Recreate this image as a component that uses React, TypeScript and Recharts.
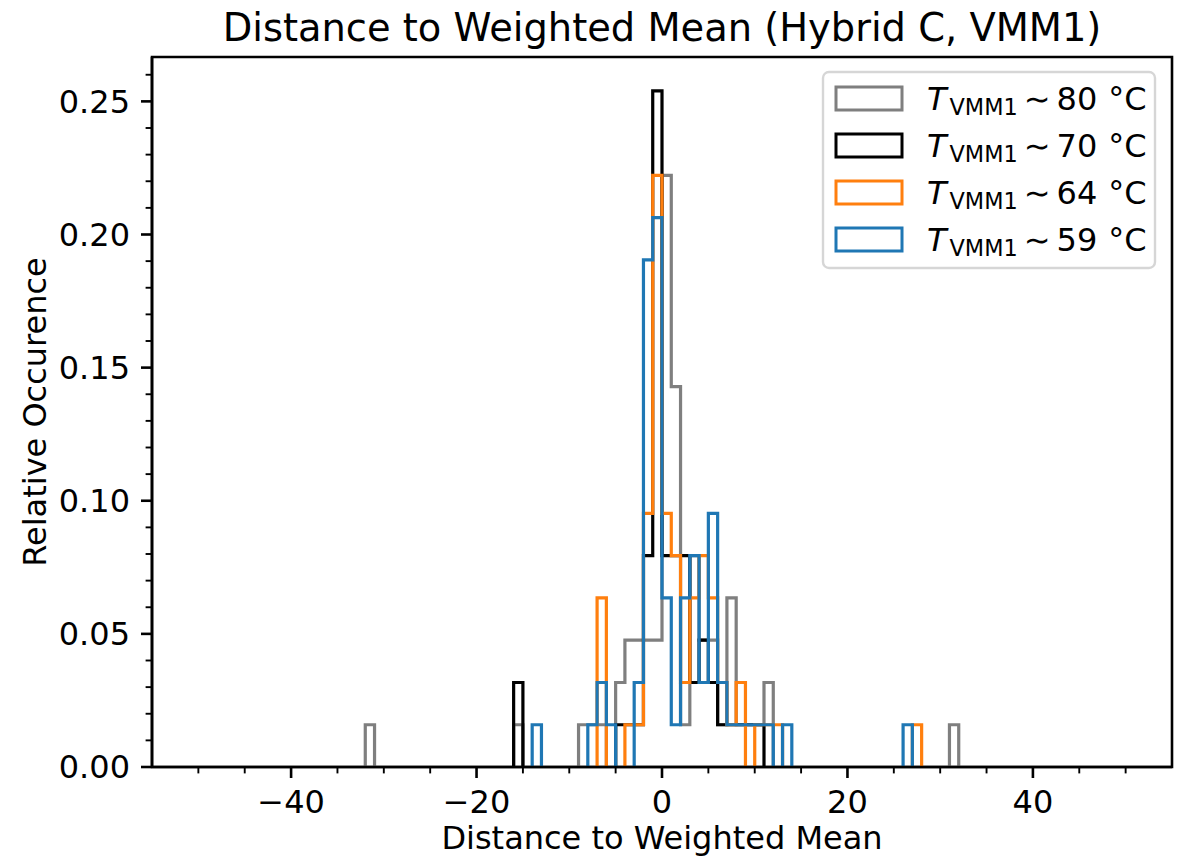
import React from 'react';
import { LineChart, Line, XAxis, YAxis, ReferenceArea } from 'recharts';

// counts per 1-unit bin (key = left edge of the bin), normalised by TOTAL
const TOTAL = 63;

const GRAY_BINS = [-32, -16, -9, -8, -7, -5, -4, -3, -2, -1, 0, 1, 2, 3, 4, 5, 6, 7, 8, 9, 10, 11, 31];
const GRAY_COUNTS = [1, 1, 1, 1, 1, 2, 3, 3, 3, 3, 14, 9, 1, 5, 3, 3, 1, 4, 1, 1, 1, 2, 1];

const BLACK_BINS = [-16, -5, -4, -3, -2, -1, 0, 1, 2, 3, 4, 5, 6, 7, 8, 9, 10];
const BLACK_COUNTS = [2, 1, 1, 1, 5, 16, 5, 5, 5, 2, 3, 2, 1, 1, 1, 1, 1];

const ORANGE_BINS = [-7, -4, -3, -2, -1, 0, 1, 2, 3, 4, 5, 6, 7, 8, 10, 11, 12, 27];
const ORANGE_COUNTS = [4, 1, 1, 6, 14, 6, 5, 2, 4, 5, 4, 2, 1, 2, 1, 1, 1, 1];

const BLUE_BINS = [-14, -8, -7, -6, -3, -2, -1, 0, 1, 2, 3, 4, 5, 6, 7, 8, 9, 10, 11, 13, 26];
const BLUE_COUNTS = [1, 1, 2, 1, 2, 12, 13, 4, 1, 4, 5, 2, 6, 2, 1, 1, 1, 1, 1, 1, 1];

const SERIES = [
  { name: '80', color: '#7f7f7f', bins: GRAY_BINS, counts: GRAY_COUNTS },
  { name: '70', color: '#000000', bins: BLACK_BINS, counts: BLACK_COUNTS },
  { name: '64', color: '#ff7f0e', bins: ORANGE_BINS, counts: ORANGE_COUNTS },
  { name: '59', color: '#1f77b4', bins: BLUE_BINS, counts: BLUE_COUNTS },
];

const X_DOMAIN: [number, number] = [-55, 55];
const X_MAJOR = [-40, -20, 0, 20, 40];
const X_MINOR = [-50, -45, -35, -30, -25, -15, -10, -5, 5, 10, 15, 25, 30, 35, 45, 50];
const Y_MAJOR = [0, 0.05, 0.1, 0.15, 0.2, 0.25];
const Y_MINOR = [
  0.01, 0.02, 0.03, 0.04, 0.06, 0.07, 0.08, 0.09, 0.11, 0.12, 0.13, 0.14,
  0.16, 0.17, 0.18, 0.19, 0.21, 0.22, 0.23, 0.24, 0.26,
];

const FONT = '"DejaVu Sans", sans-serif';
const W = 1178;
const H = 856;

// step outline like histtype='step': one run per block of non-empty bins
function outline(bins: number[], counts: number[]) {
  const pts: { x: number; y: number | null }[] = [];
  for (let i = 0; i < bins.length; i++) {
    const b = bins[i];
    const h = counts[i] / TOTAL;
    if (i === 0 || bins[i - 1] !== b - 1) pts.push({ x: b, y: 0 });
    pts.push({ x: b, y: h });
    pts.push({ x: b + 1, y: h });
    if (i === bins.length - 1 || bins[i + 1] !== b + 1) {
      pts.push({ x: b + 1, y: 0 });
      pts.push({ x: b + 1, y: null });
    }
  }
  return pts;
}

const allCounts = SERIES.flatMap((s) => s.counts);
const Y_TOP = (Math.max(...allCounts) / TOTAL) * 1.05;

function fmtX(v: number) {
  return v < 0 ? `\u2212${Math.abs(v)}` : String(v);
}

function XTick(props: any) {
  const { x, y, payload } = props;
  const major = X_MAJOR.includes(payload.value);
  return (
    <g>
      <line x1={x} x2={x} y1={y} y2={y + (major ? 11 : 6.4)} stroke="#000" strokeWidth={major ? 2.6 : 1.9} />
      {major && (
        <text x={x} y={y + 46} textAnchor="middle" fontSize={32} fontFamily={FONT} fill="#000">
          {fmtX(payload.value)}
        </text>
      )}
    </g>
  );
}

function YTick(props: any) {
  const { x, y, payload } = props;
  const major = Y_MAJOR.some((m) => Math.abs(m - payload.value) < 1e-9);
  return (
    <g>
      <line x1={x} x2={x - (major ? 11 : 6.4)} y1={y} y2={y} stroke="#000" strokeWidth={major ? 2.6 : 1.9} />
      {major && (
        <text x={x - 22} y={y} dy="0.35em" textAnchor="end" fontSize={32} fontFamily={FONT} fill="#000">
          {payload.value.toFixed(2)}
        </text>
      )}
    </g>
  );
}

function LegendBox() {
  const left = 823;
  const top = 72;
  const rowH = 47;
  return (
    <g>
      <rect x={left} y={top} width={332} height={196} rx={6} fill="#fff" fillOpacity={0.8} stroke="#d6d6d6" strokeWidth={2.4} />
      {SERIES.map((s, i) => {
        const cy = top + 26.5 + i * rowH;
        return (
          <g key={s.name}>
            <rect x={836} y={cy - 11.5} width={66} height={23} fill="#fff" stroke={s.color} strokeWidth={3} />
            <text x={927} y={cy + 11} fontSize={32} fontFamily={FONT} fill="#000">
              <tspan fontStyle="italic">T</tspan>
              <tspan fontSize={22.4} dy={5} dx={3}>VMM1</tspan>
              <tspan dy={-5} dx={6}>{'\u223C'}</tspan>
              <tspan dx={6}>{s.name}</tspan>
              <tspan dx={11}>{'\u00B0C'}</tspan>
            </text>
          </g>
        );
      })}
    </g>
  );
}

export default function App() {
  return (
    <div style={{ position: 'absolute', left: 0, top: 0, width: W, height: H, background: '#fff' }}>
      <LineChart width={W} height={H} margin={{ top: 57, right: 6, bottom: 0, left: 0 }}>
        <XAxis
          type="number"
          dataKey="x"
          domain={X_DOMAIN}
          ticks={[...X_MAJOR, ...X_MINOR].sort((a, b) => a - b)}
          interval={0}
          height={89}
          tickSize={0}
          tickMargin={0}
          tickLine={false}
          axisLine={{ stroke: '#000', strokeWidth: 2.6 }}
          tick={<XTick />}
          allowDataOverflow
        />
        <YAxis
          type="number"
          domain={[0, Y_TOP]}
          ticks={[...Y_MAJOR, ...Y_MINOR].sort((a, b) => a - b)}
          interval={0}
          width={152}
          tickSize={0}
          tickMargin={0}
          tickLine={false}
          axisLine={{ stroke: '#000', strokeWidth: 2.6 }}
          tick={<YTick />}
          allowDataOverflow
        />
        {SERIES.map((s) => (
          <Line
            key={s.name}
            data={outline(s.bins, s.counts)}
            dataKey="y"
            type="linear"
            stroke={s.color}
            strokeWidth={3.2}
            strokeLinejoin="miter"
            dot={false}
            activeDot={false}
            connectNulls={false}
            isAnimationActive={false}
          />
        ))}
        <ReferenceArea x1={X_DOMAIN[0]} x2={X_DOMAIN[1]} y1={0} y2={Y_TOP} fill="none" stroke="#000" strokeWidth={2.6} ifOverflow="visible" />
      </LineChart>
      <svg width={W} height={H} style={{ position: 'absolute', left: 0, top: 0, pointerEvents: 'none' }}>
        <text x={662} y={41} textAnchor="middle" fontSize={38.4} fontFamily={FONT} fill="#000">
          Distance to Weighted Mean (Hybrid C, VMM1)
        </text>
        <text x={662} y={849} textAnchor="middle" fontSize={32} fontFamily={FONT} fill="#000">
          Distance to Weighted Mean
        </text>
        <text x={46} y={412} textAnchor="middle" fontSize={32} fontFamily={FONT} fill="#000" transform="rotate(-90 46 412)">
          Relative Occurence
        </text>
        <LegendBox />
      </svg>
    </div>
  );
}
